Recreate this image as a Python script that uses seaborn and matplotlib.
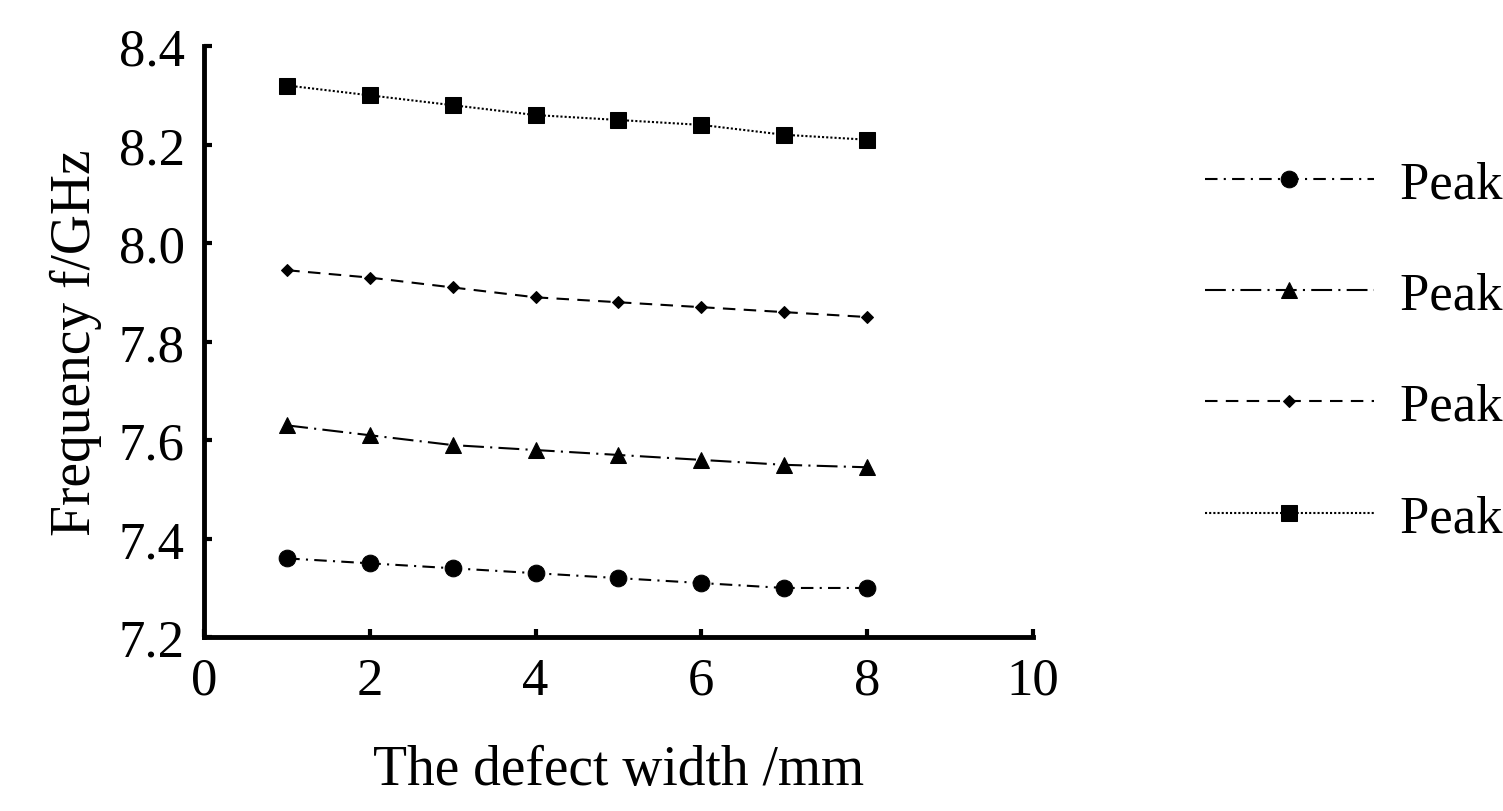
import numpy as np
import pandas as pd
import matplotlib
matplotlib.use("Agg")
import matplotlib.pyplot as plt
import seaborn as sns

width_mm = [1, 2, 3, 4, 5, 6, 7, 8]
peak1 = [7.36, 7.35, 7.34, 7.33, 7.32, 7.31, 7.30, 7.30]
peak2 = [7.63, 7.61, 7.59, 7.58, 7.57, 7.56, 7.55, 7.545]
peak3 = [7.945, 7.93, 7.91, 7.89, 7.88, 7.87, 7.86, 7.85]
peak4 = [8.32, 8.30, 8.28, 8.26, 8.25, 8.24, 8.22, 8.21]
names = ["Peak 1", "Peak 2", "Peak 3", "Peak 4"]

sns.set_style("ticks")
plt.rcParams['font.family'] = ['Liberation Serif', 'DejaVu Serif']
plt.rcParams['text.color'] = 'black'

fig = plt.figure(figsize=(15.03, 8.12), dpi=100)
ax = fig.add_axes([0.136, 0.214, 0.551, 0.728])

styles = {
    "Peak 1": dict(marker="o", ls=(0, (6, 3, 1, 3)), ms=12),
    "Peak 2": dict(marker="^", ls=(0, (10, 3, 1, 3)), ms=11),
    "Peak 3": dict(marker="D", ls=(0, (6, 4)), ms=6),
    "Peak 4": dict(marker="s", ls=(0, (1, 1)), ms=11),
}
for name, vals in zip(names, [peak1, peak2, peak3, peak4]):
    df = pd.DataFrame({"x": width_mm, "y": vals})
    st = styles[name]
    sns.lineplot(data=df, x="x", y="y", ax=ax, color="black", lw=1.5,
                 marker=st["marker"], markersize=st["ms"], linestyle=st["ls"],
                 markeredgecolor="black", label=name)

ax.set_xlim(0, 10)
ax.set_ylim(7.2, 8.4)
ax.set_xticks([0, 2, 4, 6, 8, 10])
ax.set_yticks([7.2, 7.4, 7.6, 7.8, 8.0, 8.2, 8.4])
ax.yaxis.set_major_formatter(matplotlib.ticker.FormatStrFormatter('%.1f'))
ax.tick_params(direction="in", labelsize=38, width=3, length=6, pad=14,
               labelcolor="black", color="black")
for s in ["left", "bottom"]:
    ax.spines[s].set_linewidth(3.5)
    ax.spines[s].set_color("black")
sns.despine(ax=ax)
ax.set_xlabel("The defect width /mm", fontsize=40, labelpad=28, color="black")
ax.set_ylabel("Frequency f/GHz", fontsize=40, labelpad=12, color="black")

ax.legend(loc="upper left", bbox_to_anchor=(0.77, 0.86), bbox_transform=fig.transFigure,
          frameon=False, fontsize=38, handlelength=3.2, handletextpad=0.5,
          labelspacing=1.2)

fig.savefig("out.png", dpi=100)
